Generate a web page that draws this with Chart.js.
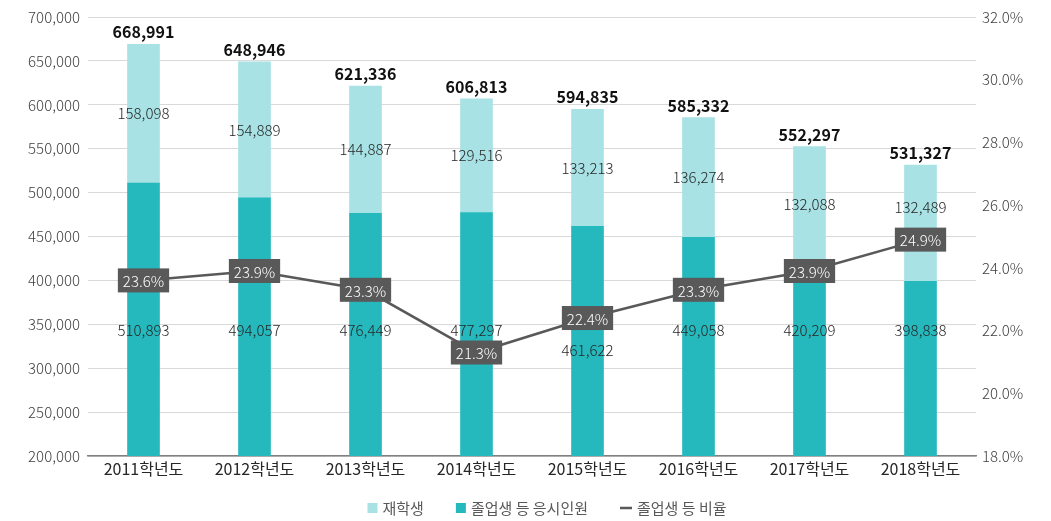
<!DOCTYPE html>
<html>
<head>
<meta charset="utf-8">
<script src="https://cdn.jsdelivr.net/npm/chart.js@4.4.1/dist/chart.umd.min.js"></script>
<style>
  html, body { margin: 0; padding: 0; background: #fff; }
  #wrap { width: 1051px; height: 521px; }
</style>
</head>
<body>
<div id="wrap"><canvas id="examChart" width="1051" height="521"></canvas></div>
<script>
const categories = ['2011학년도', '2012학년도', '2013학년도', '2014학년도', '2015학년도', '2016학년도', '2017학년도', '2018학년도'];
const enrolled = [158098, 154889, 144887, 129516, 133213, 136274, 132088, 132489];
const graduates = [510893, 494057, 476449, 477297, 461622, 449058, 420209, 398838];
const totals = [668991, 648946, 621336, 606813, 594835, 585332, 552297, 531327];
const ratio = [23.6, 23.9, 23.3, 21.3, 22.4, 23.3, 23.9, 24.9];

const FONT = '"Noto Sans CJK KR", "Noto Sans", sans-serif';
const fmt = v => v.toLocaleString('en-US');

// data labels drawn by hand: totals, segment values, ratio boxes
const labelPlugin = {
    id: 'labels',
    afterDatasetsDraw(chart) {
        const ctx = chart.ctx;
        const y = chart.scales.y;
        const gradMeta = chart.getDatasetMeta(0);
        const enrMeta = chart.getDatasetMeta(1);
        const lineMeta = chart.getDatasetMeta(2);
        ctx.save();
        ctx.textAlign = 'center';
        ctx.textBaseline = 'middle';
        const baseY = y.getPixelForValue(343000);
        gradMeta.data.forEach((bar, i) => {
            let ly = baseY;
            const boxY = lineMeta.data[i].y;
            if (boxY <= ly && ly - boxY < 22) ly += 20;
            ctx.font = '300 15px ' + FONT;
            ctx.fillStyle = '#262626';
            ctx.fillText(fmt(graduates[i]), bar.x, ly);
        });
        enrMeta.data.forEach((bar, i) => {
            let ly = (bar.y + bar.base) / 2;
            const boxY = lineMeta.data[i].y;
            if (Math.abs(boxY - ly) < 30) ly = boxY - 32;
            ctx.font = '300 15px ' + FONT;
            ctx.fillStyle = '#262626';
            ctx.fillText(fmt(enrolled[i]), bar.x, ly);
            ctx.font = 'bold 16px ' + FONT;
            ctx.fillStyle = '#111';
            ctx.fillText(fmt(totals[i]), bar.x, bar.y - 12);
        });
        lineMeta.data.forEach((pt, i) => {
            const txt = ratio[i].toFixed(1) + '%';
            ctx.font = '300 15px ' + FONT;
            const w = ctx.measureText(txt).width + 10;
            const h = 24;
            ctx.fillStyle = '#595959';
            ctx.fillRect(pt.x - w / 2, pt.y - h / 2, w, h);
            ctx.fillStyle = '#ffffff';
            ctx.fillText(txt, pt.x, pt.y + 1);
        });
        ctx.restore();
    }
};

// legend at the bottom, in the order 재학생 / 졸업생 / 비율
const legendOrder = [1, 0, 2];
const legendPlugin = {
    id: 'bottomLegend',
    afterDraw(chart) {
        const ctx = chart.ctx;
        ctx.save();
        ctx.font = '15px ' + FONT;
        ctx.textBaseline = 'middle';
        const items = legendOrder.map(i => {
            const ds = chart.data.datasets[i];
            const isLine = ds.type === 'line';
            const box = isLine ? 12 : 10;
            return { ds, isLine, box, w: box + 5 + ctx.measureText(ds.label).width };
        });
        const gap = 32;
        const total = items.reduce((s, it) => s + it.w, 0) + gap * (items.length - 1);
        const area = chart.chartArea;
        let x = (area.left + area.right) / 2 + 15 - total / 2;
        const cy = 508;
        items.forEach(it => {
            if (it.isLine) {
                ctx.strokeStyle = it.ds.borderColor;
                ctx.lineWidth = 2.5;
                ctx.beginPath();
                ctx.moveTo(x, cy);
                ctx.lineTo(x + it.box, cy);
                ctx.stroke();
            } else {
                ctx.fillStyle = it.ds.backgroundColor;
                ctx.fillRect(x, cy - 5, it.box, 10);
            }
            ctx.fillStyle = '#595959';
            ctx.fillText(it.ds.label, x + it.box + 5, cy);
            x += it.w + gap;
        });
        ctx.restore();
    }
};

const dataExam = {
    labels: categories,
    datasets: [
        {
            label: '졸업생 등 응시인원',
            data: graduates,
            backgroundColor: '#25b8bd',
            stack: 'all',
            yAxisID: 'y',
            order: 1,
            barThickness: 32
        },
        {
            label: '재학생',
            data: enrolled,
            backgroundColor: '#a8e2e4',
            stack: 'all',
            yAxisID: 'y',
            order: 2,
            barThickness: 32
        },
        {
            type: 'line',
            label: '졸업생 등 비율',
            data: ratio,
            borderColor: '#595959',
            backgroundColor: '#595959',
            borderWidth: 2.5,
            pointRadius: 0,
            yAxisID: 'y1',
            order: 0
        }
    ]
};

const configExam = {
    type: 'bar',
    data: dataExam,
    plugins: [labelPlugin, legendPlugin],
    options: {
        responsive: false,
        animation: false,
        layout: { padding: { top: 6, right: 0, left: 0, bottom: 37 } },
        plugins: {
            tooltip: { enabled: false },
            legend: { display: false }
        },
        scales: {
            x: {
                stacked: true,
                afterFit: s => { s.height = 28; },
                grid: { display: false, drawTicks: false },
                border: { color: '#808080', width: 1.5 },
                ticks: { color: '#262626', padding: 3, font: { family: FONT, size: 16 } }
            },
            y: {
                stacked: true,
                min: 200000,
                max: 700000,
                position: 'left',
                afterFit: s => { s.width = 88; },
                grid: { color: '#d9d9d9', drawTicks: false },
                border: { display: false },
                ticks: {
                    stepSize: 50000,
                    padding: 8,
                    color: '#404040',
                    font: { family: FONT, size: 15, weight: 300 },
                    callback: v => fmt(v)
                }
            },
            y1: {
                min: 18,
                max: 32,
                position: 'right',
                afterFit: s => { s.width = 75; },
                grid: { display: false, drawTicks: false },
                border: { display: false },
                ticks: {
                    stepSize: 2,
                    padding: 6,
                    color: '#404040',
                    font: { family: FONT, size: 15, weight: 300 },
                    callback: v => v.toFixed(1) + '%'
                }
            }
        }
    }
};

var examChart = new Chart(document.getElementById('examChart'), configExam);
</script>
</body>
</html>
